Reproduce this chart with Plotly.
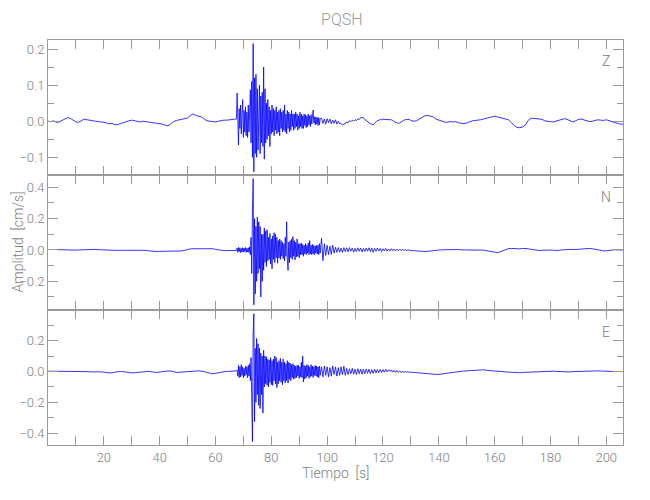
import numpy as np
import plotly.graph_objects as go
from plotly.subplots import make_subplots

# ---------------- data (cm/s) ----------------
# segment sampling: pre 0..67 s (1 s), burst 67.5..97.5 s (0.25 s),
# post1 98..130 s (0.5 s), post2 131..206 s (1 s)
components = ["Z", "N", "E"]

z_pre = [0.000, -0.001, 0.001, -0.003, -0.002, 0.002, 0.006, 0.010, 0.008, 0.003,
         -0.002, -0.003, 0.002, 0.006, 0.004, 0.002, 0.000, 0.000, -0.001, -0.001,
         -0.003, -0.005, -0.007, -0.006, -0.010, -0.009, -0.006, -0.004, -0.002, 0.001,
         0.003, 0.002, -0.001, -0.002, 0.000, -0.001, -0.002, -0.002, -0.003, -0.004,
         -0.005, -0.008, -0.011, -0.013, -0.007, -0.001, 0.002, 0.004, 0.006, 0.006,
         0.009, 0.016, 0.020, 0.016, 0.014, 0.012, 0.006, 0.001, 0.000, -0.001,
         -0.002, 0.000, 0.002, 0.003, 0.003, 0.004, 0.003, 0.004]
z_burst = [0.006, 0.078, -0.040, -0.066, 0.035, -0.020, 0.045, -0.035, 0.020, 0.060,
           -0.045, 0.030, -0.030, 0.040, -0.040, 0.025, -0.045, 0.045, -0.030, 0.050,
           0.087, -0.060, 0.110, -0.100, 0.215, -0.140, 0.120, -0.090, 0.130, -0.100,
           0.090, -0.080, 0.060, 0.100, -0.090, 0.070, -0.060, 0.080, -0.070, 0.150,
           -0.105, 0.090, -0.060, 0.050, -0.050, 0.060, -0.040, 0.040, -0.070, 0.030,
           -0.035, 0.045, -0.030, 0.035, -0.040, 0.030, -0.025, 0.040, -0.035, 0.025,
           -0.030, 0.030, -0.040, 0.035, -0.020, 0.025, -0.030, 0.030, -0.025, 0.045,
           -0.030, 0.020, -0.035, 0.030, -0.020, 0.025, -0.030, 0.020, -0.025, 0.030,
           -0.015, 0.020, -0.025, 0.020, -0.020, 0.025, -0.015, 0.020, -0.025, 0.015,
           -0.020, 0.025, -0.015, 0.020, -0.020, 0.015, -0.020, 0.020, -0.012, 0.018,
           -0.018, 0.015, -0.015, 0.020, -0.010, 0.015, -0.015, 0.018, -0.008, 0.025,
           0.031, -0.005, 0.012, -0.010, 0.012, -0.008, 0.010, -0.012, 0.010, -0.010,
           0.008]
z_post1 = [0.008, -0.006, 0.006, -0.008, 0.007, -0.004, 0.006, -0.007, 0.003, -0.006,
           0.004, -0.008, 0.000, -0.007, -0.006, -0.011, -0.008, -0.007, -0.002, -0.004,
           0.001, -0.001, 0.003, 0.000, 0.004, 0.002, 0.006, 0.005, 0.010, 0.009,
           0.010, 0.005, 0.002, -0.002, -0.003, -0.007, -0.008, -0.010, -0.006, -0.002,
           0.002, 0.002, 0.005, 0.004, 0.006, 0.005, 0.005, 0.004, 0.005, 0.003,
           0.004, 0.002, -0.001, -0.003, -0.004, -0.006, -0.005, -0.002, 0.001, 0.003,
           0.004, 0.005, 0.006, 0.005, 0.002]
z_post2 = [0.000, 0.001, 0.006, 0.012, 0.015, 0.016, 0.014, 0.012, 0.006, 0.003,
           0.000, -0.002, -0.003, -0.001, -0.002, -0.001, -0.004, -0.006, -0.007, -0.005,
           -0.001, 0.001, 0.002, 0.002, 0.004, 0.006, 0.008, 0.010, 0.012, 0.014,
           0.012, 0.010, 0.009, 0.008, 0.004, -0.004, -0.012, -0.017, -0.018, -0.016,
           -0.011, 0.002, 0.008, 0.008, 0.007, 0.008, 0.005, 0.001, -0.001, -0.001,
           -0.002, 0.000, 0.003, 0.006, 0.007, 0.005, 0.001, -0.002, 0.001, 0.005,
           0.006, 0.003, 0.000, -0.001, 0.000, 0.003, 0.004, 0.003, 0.002, 0.004,
           0.001, -0.002, -0.003, -0.006, -0.008, -0.008]

n_pre = [0.003, 0.004, 0.004, 0.003, 0.002, 0.001, 0.000, 0.000, -0.001, 0.000,
         -0.001, 0.000, 0.001, 0.002, 0.003, 0.004, 0.004, 0.004, 0.002, 0.001,
         -0.001, -0.003, -0.004, -0.004, -0.004, -0.003, -0.002, -0.002, -0.002, 0.000,
         0.001, 0.000, 0.001, 0.000, 0.000, -0.002, -0.005, -0.008, -0.009, -0.010,
         -0.009, -0.009, -0.008, -0.008, -0.009, -0.008, -0.008, -0.008, -0.006, -0.002,
         0.003, 0.007, 0.008, 0.007, 0.006, 0.007, 0.008, 0.008, 0.009, 0.008,
         0.004, 0.000, -0.003, -0.004, -0.004, -0.003, -0.004, -0.003]
n_burst = [-0.003, 0.012, -0.015, 0.016, -0.010, 0.014, -0.017, 0.010, -0.012, 0.015,
           -0.014, 0.012, -0.010, 0.016, -0.015, 0.010, -0.012, 0.014, -0.016, 0.020,
           -0.030, 0.080, -0.150, 0.250, 0.455, -0.350, 0.200, -0.280, 0.150, -0.200,
           0.210, -0.150, 0.180, -0.120, 0.150, -0.300, 0.100, -0.200, 0.100, -0.130,
           0.140, -0.080, 0.120, -0.105, 0.130, -0.070, 0.080, -0.060, 0.105, -0.090,
           0.070, -0.120, 0.090, -0.060, 0.110, -0.080, 0.100, -0.050, 0.080, -0.085,
           0.060, -0.050, 0.070, -0.060, 0.060, -0.040, 0.050, -0.055, 0.040, -0.070,
           0.080, -0.040, 0.180, -0.060, -0.130, 0.050, -0.080, 0.060, -0.050, 0.070,
           -0.060, 0.085, -0.040, 0.060, -0.064, 0.050, -0.045, 0.070, -0.040, 0.040,
           -0.050, 0.040, -0.030, 0.045, -0.030, 0.035, -0.040, 0.030, -0.025, 0.040,
           -0.030, 0.030, -0.020, 0.045, -0.030, 0.060, -0.025, 0.030, -0.030, 0.035,
           -0.025, 0.030, -0.030, 0.025, -0.020, 0.030, -0.025, 0.030, -0.030, 0.040,
           -0.020]
n_post1 = [0.075, -0.068, 0.040, -0.035, 0.030, -0.030, 0.025, -0.028, 0.030, -0.020,
           0.018, -0.015, 0.016, -0.014, 0.012, -0.016, 0.015, -0.010, 0.014, -0.012,
           0.015, -0.008, 0.012, -0.014, 0.010, -0.010, 0.014, -0.008, 0.012, -0.012,
           0.010, -0.010, 0.012, -0.008, 0.014, -0.010, 0.012, -0.015, 0.010, -0.008,
           0.012, -0.006, 0.010, -0.010, 0.008, -0.006, 0.010, -0.008, 0.006, -0.006,
           0.008, -0.004, 0.006, -0.006, 0.005, -0.004, 0.004, -0.003, 0.003, -0.002,
           0.002, -0.004, 0.001, -0.003, -0.004]
n_post2 = [-0.004, -0.006, -0.008, -0.009, -0.010, -0.009, -0.006, -0.003, -0.001, 0.000,
           0.001, 0.002, 0.001, 0.000, 0.001, 0.002, 0.003, 0.001, 0.000, -0.001,
           0.000, 0.000, -0.001, 0.000, 0.001, -0.001, -0.004, -0.008, -0.012, -0.016,
           -0.017, -0.012, -0.004, 0.004, 0.009, 0.010, 0.008, 0.006, 0.007, 0.010,
           0.011, 0.008, 0.004, 0.001, -0.002, -0.003, -0.002, 0.000, 0.001, 0.000,
           -0.002, -0.004, -0.003, 0.000, 0.002, 0.003, 0.004, 0.003, 0.002, 0.004,
           0.006, 0.008, 0.009, 0.010, 0.008, 0.004, 0.000, -0.004, -0.006, -0.005,
           -0.002, 0.001, 0.002, 0.001, 0.000, 0.000]

e_pre = [0.002, 0.002, 0.003, 0.002, 0.001, 0.002, 0.002, 0.001, 0.002, 0.002,
         0.003, 0.002, 0.001, 0.000, -0.001, -0.002, -0.004, -0.003, -0.002, -0.002,
         -0.004, -0.008, -0.011, -0.009, -0.004, -0.001, 0.000, -0.001, -0.004, -0.007,
         -0.009, -0.008, -0.006, -0.003, 0.000, 0.002, 0.001, -0.002, -0.005, -0.006,
         -0.004, -0.001, 0.002, 0.004, 0.003, -0.002, -0.006, -0.005, -0.003, -0.001,
         0.000, 0.001, 0.002, 0.003, 0.004, 0.003, 0.000, -0.007, -0.013, -0.015,
         -0.012, -0.007, -0.004, -0.002, 0.000, 0.002, 0.003, 0.004]
e_burst = [0.004, 0.010, -0.030, 0.040, -0.040, 0.030, -0.035, 0.045, -0.025, 0.030,
           -0.040, 0.020, -0.030, 0.035, -0.020, 0.030, -0.040, 0.040, -0.030, 0.050,
           -0.060, 0.090, -0.200, -0.455, 0.250, 0.375, -0.325, 0.150, -0.200, 0.215,
           -0.150, 0.180, -0.220, 0.150, -0.240, 0.120, -0.150, 0.100, -0.270, 0.138,
           -0.100, 0.100, -0.080, 0.095, -0.090, 0.080, -0.100, 0.075, -0.070, 0.090,
           -0.085, 0.070, -0.090, 0.080, -0.060, 0.100, -0.080, 0.090, -0.105, 0.060,
           -0.080, 0.070, -0.060, 0.085, -0.070, 0.060, -0.085, 0.080, -0.060, 0.060,
           -0.075, 0.050, -0.060, 0.070, -0.075, 0.060, -0.050, 0.055, -0.060, 0.045,
           -0.040, 0.050, -0.050, 0.040, -0.045, 0.035, -0.040, 0.040, -0.030, 0.040,
           -0.045, 0.030, -0.035, 0.060, -0.040, 0.100, -0.067, 0.040, -0.050, 0.035,
           -0.040, 0.045, -0.030, 0.040, -0.045, 0.030, -0.035, 0.045, -0.030, 0.035,
           -0.040, 0.030, -0.025, 0.040, -0.030, 0.035, -0.035, 0.030, -0.040, 0.035,
           -0.025]
e_post1 = [0.030, -0.035, 0.035, -0.025, 0.030, -0.035, 0.025, -0.030, 0.035, -0.020,
           0.030, -0.030, 0.025, -0.025, 0.030, -0.020, 0.035, -0.025, 0.020, -0.020,
           0.018, -0.015, 0.020, -0.018, 0.015, -0.020, 0.018, -0.015, 0.016, -0.018,
           0.014, -0.015, 0.016, -0.012, 0.015, -0.014, 0.012, -0.012, 0.014, -0.010,
           0.012, -0.008, 0.014, -0.006, 0.012, -0.004, 0.014, -0.002, 0.012, 0.000,
           0.010, -0.004, 0.008, -0.006, 0.006, -0.006, 0.004, -0.008, 0.002, -0.006,
           0.000, -0.004, -0.002, -0.006, -0.004]
e_post2 = [-0.006, -0.008, -0.010, -0.012, -0.014, -0.016, -0.017, -0.018, -0.019, -0.019,
           -0.016, -0.013, -0.010, -0.008, -0.006, -0.004, -0.001, 0.001, 0.003, 0.004,
           0.006, 0.008, 0.010, 0.012, 0.013, 0.011, 0.008, 0.006, 0.003, 0.001,
           0.000, 0.000, -0.002, -0.003, -0.004, -0.005, -0.007, -0.009, -0.008, -0.006,
           -0.005, -0.004, -0.004, -0.005, -0.004, -0.002, 0.001, 0.003, 0.004, 0.003,
           0.002, 0.001, 0.000, -0.002, -0.003, -0.004, -0.003, -0.001, 0.000, 0.001,
           0.000, 0.001, 0.002, 0.002, 0.003, 0.004, 0.004, 0.003, 0.001, 0.000,
           0.001, 0.000, 0.000, 0.000, 0.000, 0.000]

y_ranges = [[-0.149, 0.225], [-0.383, 0.4785], [-0.477, 0.399]]
y_ticks = [[-0.1, 0.0, 0.1, 0.2], [-0.2, 0.0, 0.2, 0.4], [-0.4, -0.2, 0.0, 0.2]]
y_minor = [0.05, 0.1, 0.1]
x_ticks = [20, 40, 60, 80, 100, 120, 140, 160, 180, 200]

# ---------------- build traces ----------------
def sample_times(pre, burst, post1, post2):
    t1 = np.arange(len(pre)) * 1.0
    t2 = 67.5 + 0.25 * np.arange(len(burst))
    t3 = 98.0 + 0.5 * np.arange(len(post1))
    t4 = 131.0 + np.arange(len(post2)) * 1.0
    return np.concatenate([t1, t2, t3, t4])

series = [
    (z_pre, z_burst, z_post1, z_post2),
    (n_pre, n_burst, n_post1, n_post2),
    (e_pre, e_burst, e_post1, e_post2),
]

FONT = "Roboto, Liberation Sans, sans-serif"
AXC = "#9a9a9a"
TXC = "#808080"

def tfont(size):
    return dict(family=FONT, size=size, color=TXC, weight=300)

fig = make_subplots(rows=3, cols=1, shared_xaxes=True, vertical_spacing=0)

for i, segs in enumerate(series):
    t = sample_times(*segs)
    v = np.concatenate([np.asarray(s, dtype=float) for s in segs])
    fig.add_trace(go.Scatter(x=t, y=v, mode="lines",
                             line=dict(color="#0000ff", width=0.8),
                             showlegend=False, hoverinfo="skip"),
                  row=i + 1, col=1)

for i in range(3):
    fig.update_xaxes(range=[0, 206], tickvals=x_ticks, ticks="inside", ticklen=9,
                     tickcolor=AXC, showline=True, linecolor=AXC, linewidth=1,
                     mirror="ticks", showgrid=False, zeroline=False, automargin=False,
                     minor=dict(dtick=10, tick0=0, ticks="inside", ticklen=9, tickcolor=AXC),
                     showticklabels=(i == 2), tickfont=tfont(13),
                     row=i + 1, col=1)
    fig.update_yaxes(range=y_ranges[i], tickvals=y_ticks[i], tickformat=".1f",
                     ticks="inside", ticklen=10, tickcolor=AXC,
                     showline=True, linecolor=AXC, linewidth=1, mirror="ticks",
                     showgrid=False, zeroline=False, automargin=False,
                     minor=dict(dtick=y_minor[i], tick0=0, ticks="inside", ticklen=6, tickcolor=AXC),
                     tickfont=tfont(13),
                     row=i + 1, col=1)

label_y = [0.949, 0.613, 0.28]
for name, ly in zip(components, label_y):
    fig.add_annotation(text=name, xref="paper", yref="paper", x=0.97, y=ly,
                       xanchor="center", yanchor="middle",
                       showarrow=False, font=tfont(14))

fig.add_annotation(text="Amplitud  [cm/s]", xref="paper", yref="paper", x=0, y=0.5,
                   xanchor="center", yanchor="middle",
                   xshift=-31, textangle=-90, showarrow=False, font=tfont(14))
fig.add_annotation(text="Tiempo  [s]", xref="paper", yref="paper", x=0.5, y=0,
                   xanchor="center", yanchor="middle",
                   yshift=-28, showarrow=False, font=tfont(14))

# page body has an 8px default margin: size/margins compensate so the
# plot frame lands where it is in the reference window
fig.update_layout(
    width=642, height=492,
    margin=dict(l=40, r=27, t=32, b=55),
    paper_bgcolor="white", plot_bgcolor="white",
    title=dict(text="PQSH", x=0.52, xanchor="center", y=1 - 11 / 492, yanchor="middle",
               font=dict(family=FONT, size=16, color="#9a9a9a", weight=300)),
)

fig.write_html("out.html")
